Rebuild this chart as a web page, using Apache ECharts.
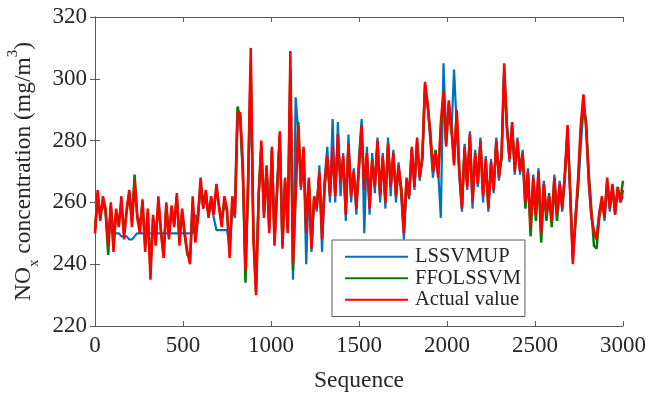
<!DOCTYPE html>
<html>
<head>
	<meta charset="utf-8">
	<title>NOx concentration</title>
	<script src="https://cdn.jsdelivr.net/npm/echarts@6/dist/echarts.min.js"></script>
	<style>
		html, body { margin: 0; padding: 0; background: #fff; }
		#main { width: 646px; height: 393px; }
	</style>
</head>
<body>
	<div id="main"></div>
	<script type="text/javascript">
		// sequence positions, one sample every 15 steps (0 ... 3000)
		var step = 15;
		var xTicks = [0, 500, 1000, 1500, 2000, 2500, 3000];
		var yTicks = [220, 240, 260, 280, 300, 320];

		var actualValue = [
			250, 264, 254, 262, 258, 246, 260, 244, 258, 252,
			262, 248, 258, 264, 252, 267, 255, 250, 261, 244,
			258, 235, 256, 246, 262, 250, 242, 260, 248, 259,
			252, 263, 246, 258, 250, 244, 240, 262, 247, 255,
			268, 258, 264, 255, 262, 256, 266, 258, 252, 262,
			258, 242, 262, 256, 289, 289, 272, 238, 268, 310,
			248, 230, 262, 280, 255, 272, 250, 278, 246, 265,
			283, 245, 268, 250, 309, 240, 262, 285, 265, 278,
			250, 268, 245, 262, 258, 270, 248, 266, 275, 262,
			278, 262, 282, 266, 275, 256, 279, 262, 270, 258,
			272, 285, 264, 276, 258, 274, 265, 280, 262, 275,
			260, 279, 265, 276, 262, 272, 264, 250, 268, 262,
			278, 265, 281, 268, 275, 299, 292, 282, 270, 276,
			268, 286, 296, 278, 293, 284, 272, 290, 270, 258,
			278, 265, 282, 260, 276, 266, 280, 262, 274, 258,
			273, 264, 280, 268, 275, 305, 284, 274, 286, 270,
			280, 270, 276, 260, 270, 252, 268, 256, 270, 250,
			266, 256, 262, 254, 268, 256, 266, 258, 270, 285,
			262, 240, 255, 268, 285, 295, 284, 268, 256, 250,
			248, 256, 262, 255, 268, 258, 266, 256, 265, 260,
			264
		];
		var ffolssvm = [
			251, 262, 256, 260, 257, 243, 259, 246, 257, 253,
			260, 250, 257, 263, 254, 269, 256, 252, 260, 246,
			257, 238, 255, 248, 260, 251, 243, 259, 249, 258,
			253, 262, 248, 257, 249, 243, 242, 260, 248, 256,
			266, 259, 263, 256, 261, 257, 265, 259, 254, 260,
			257, 244, 260, 258, 291, 287, 270, 234, 266, 305,
			250, 231, 263, 278, 257, 271, 252, 277, 248, 264,
			281, 247, 267, 252, 303, 238, 264, 286, 266, 277,
			252, 267, 247, 261, 259, 269, 250, 265, 274, 263,
			276, 263, 280, 267, 274, 258, 278, 263, 269, 260,
			271, 283, 265, 275, 260, 273, 266, 279, 263, 274,
			261, 278, 266, 275, 263, 271, 265, 252, 267, 263,
			277, 266, 279, 269, 274, 298, 291, 283, 271, 277,
			269, 284, 294, 279, 292, 285, 273, 289, 271, 259,
			277, 266, 281, 261, 275, 267, 279, 263, 273, 259,
			272, 265, 279, 269, 274, 302, 285, 275, 284, 272,
			278, 271, 275, 258, 268, 249, 266, 254, 268, 247,
			264, 254, 263, 252, 266, 254, 264, 259, 268, 282,
			264, 243, 253, 266, 283, 292, 286, 270, 258, 246,
			245, 255, 260, 256, 266, 259, 265, 257, 264, 261,
			267
		];
		var lssvmup = [
			250, 263, 255, 261, 257, 246, 259, 250, 250, 250,
			249, 249, 249, 248, 248, 249, 250, 250, 250, 250,
			250, 250, 250, 250, 250, 250, 250, 250, 250, 250,
			250, 250, 250, 250, 250, 250, 250, 250, 256, 254,
			266, 258, 262, 256, 260, 255, 251, 251, 251, 251,
			251, 246, 258, 255, 287, 288, 268, 240, 265, 300,
			250, 233, 262, 278, 256, 271, 251, 277, 247, 264,
			282, 246, 266, 251, 300, 235, 294, 283, 264, 277,
			240, 266, 244, 262, 257, 272, 244, 268, 278, 260,
			287, 260, 286, 262, 276, 254, 282, 260, 271, 256,
			275, 287, 250, 278, 256, 276, 263, 281, 260, 276,
			258, 281, 262, 277, 260, 273, 262, 248, 266, 261,
			277, 264, 280, 267, 274, 296, 292, 280, 268, 275,
			270, 255, 305, 282, 290, 282, 303, 285, 268, 257,
			279, 264, 283, 258, 277, 265, 281, 260, 275, 257,
			274, 263, 281, 267, 276, 303, 286, 273, 286, 269,
			281, 269, 277, 261, 271, 253, 269, 257, 271, 251,
			267, 257, 261, 255, 269, 257, 267, 257, 269, 284,
			263, 241, 256, 264, 278, 290, 287, 266, 255, 251,
			249, 257, 261, 254, 267, 257, 265, 256, 265, 260,
			262
		];

		function pairs(values) {
			return values.map(function (v, i) { return [i * step, v]; });
		}

		var serif = '"Liberation Serif", "DejaVu Serif", serif';
		var axisColor = '#595959';
		var textColor = '#262626';

		var myChart = echarts.init(document.getElementById('main'), null, { renderer: 'canvas' });

		var boxAxis = {
			axisLine: { show: true, lineStyle: { color: axisColor, width: 1 } },
			axisTick: { show: true, inside: true, length: 5, lineStyle: { color: axisColor } },
			axisLabel: { show: false },
			splitLine: { show: false }
		};

		myChart.setOption({
			animation: false,
			backgroundColor: '#fff',
			grid: { left: 95, right: 23, top: 17, bottom: 67, outerBoundsMode: 'none', containLabel: false },
			legend: {
				orient: 'vertical',
				left: 332,
				top: 240,
				padding: [6, 4, 6, 13],
				itemGap: 0,
				itemWidth: 63,
				itemHeight: 2,
				icon: 'rect',
				backgroundColor: '#fff',
				borderColor: axisColor,
				borderWidth: 1,
				borderRadius: 0,
				textStyle: { fontFamily: serif, fontSize: 20.5, lineHeight: 21.5, color: textColor, padding: [0, 0, 0, 2] },
				data: ['LSSVMUP', 'FFOLSSVM', 'Actual value']
			},
			xAxis: [{
				type: 'value',
				min: 0,
				max: 3000,
				interval: 500,
				name: 'Sequence',
				nameLocation: 'middle',
				nameGap: 43,
				nameTextStyle: { fontFamily: serif, fontSize: 23.5, color: textColor },
				axisLine: { show: true, lineStyle: { color: axisColor, width: 1 } },
				axisTick: { show: true, inside: true, length: 5, lineStyle: { color: axisColor } },
				axisLabel: {
					fontFamily: serif, fontSize: 23, color: textColor, margin: 8,
					formatter: function (v) { return xTicks.indexOf(v) >= 0 ? String(v) : ''; }
				},
				splitLine: { show: false }
			}, Object.assign({
				type: 'value', position: 'top', min: 0, max: 3000, interval: 500
			}, boxAxis)],
			yAxis: [{
				type: 'value',
				min: 220,
				max: 320,
				interval: 20,
				name: '{n|NO}{sub|x}{n| concentration (mg/m}{sup|3}{n|)}',
				nameLocation: 'middle',
				nameRotate: 90,
				nameGap: 50,
				nameTextStyle: {
					fontFamily: serif, fontSize: 23.5, color: textColor,
					rich: {
						n: { fontFamily: serif, fontSize: 23.5, color: textColor, lineHeight: 36, verticalAlign: 'middle' },
						sub: { fontFamily: serif, fontSize: 15, color: textColor, lineHeight: 36, verticalAlign: 'bottom' },
						sup: { fontFamily: serif, fontSize: 15, color: textColor, lineHeight: 36, verticalAlign: 'top' }
					}
				},
				axisLine: { show: true, lineStyle: { color: axisColor, width: 1 } },
				axisTick: { show: true, inside: true, length: 5, lineStyle: { color: axisColor } },
				axisLabel: {
					fontFamily: serif, fontSize: 23, color: textColor, margin: 8,
					formatter: function (v) { return yTicks.indexOf(v) >= 0 ? String(v) : ''; }
				},
				splitLine: { show: false }
			}, Object.assign({
				type: 'value', position: 'right', min: 220, max: 320, interval: 20
			}, boxAxis)],
			series: [{
				name: 'LSSVMUP',
				type: 'line',
				data: pairs(lssvmup),
				showSymbol: false,
				symbol: 'none',
				color: '#0072BD',
				lineStyle: { width: 2.2, color: '#0072BD' }
			}, {
				name: 'FFOLSSVM',
				type: 'line',
				data: pairs(ffolssvm),
				showSymbol: false,
				symbol: 'none',
				color: '#008000',
				lineStyle: { width: 2.5, color: '#008000' }
			}, {
				name: 'Actual value',
				type: 'line',
				data: pairs(actualValue),
				showSymbol: false,
				symbol: 'none',
				color: '#FF0000',
				lineStyle: { width: 2.5, color: '#FF0000' }
			}]
		});
	</script>
</body>
</html>
